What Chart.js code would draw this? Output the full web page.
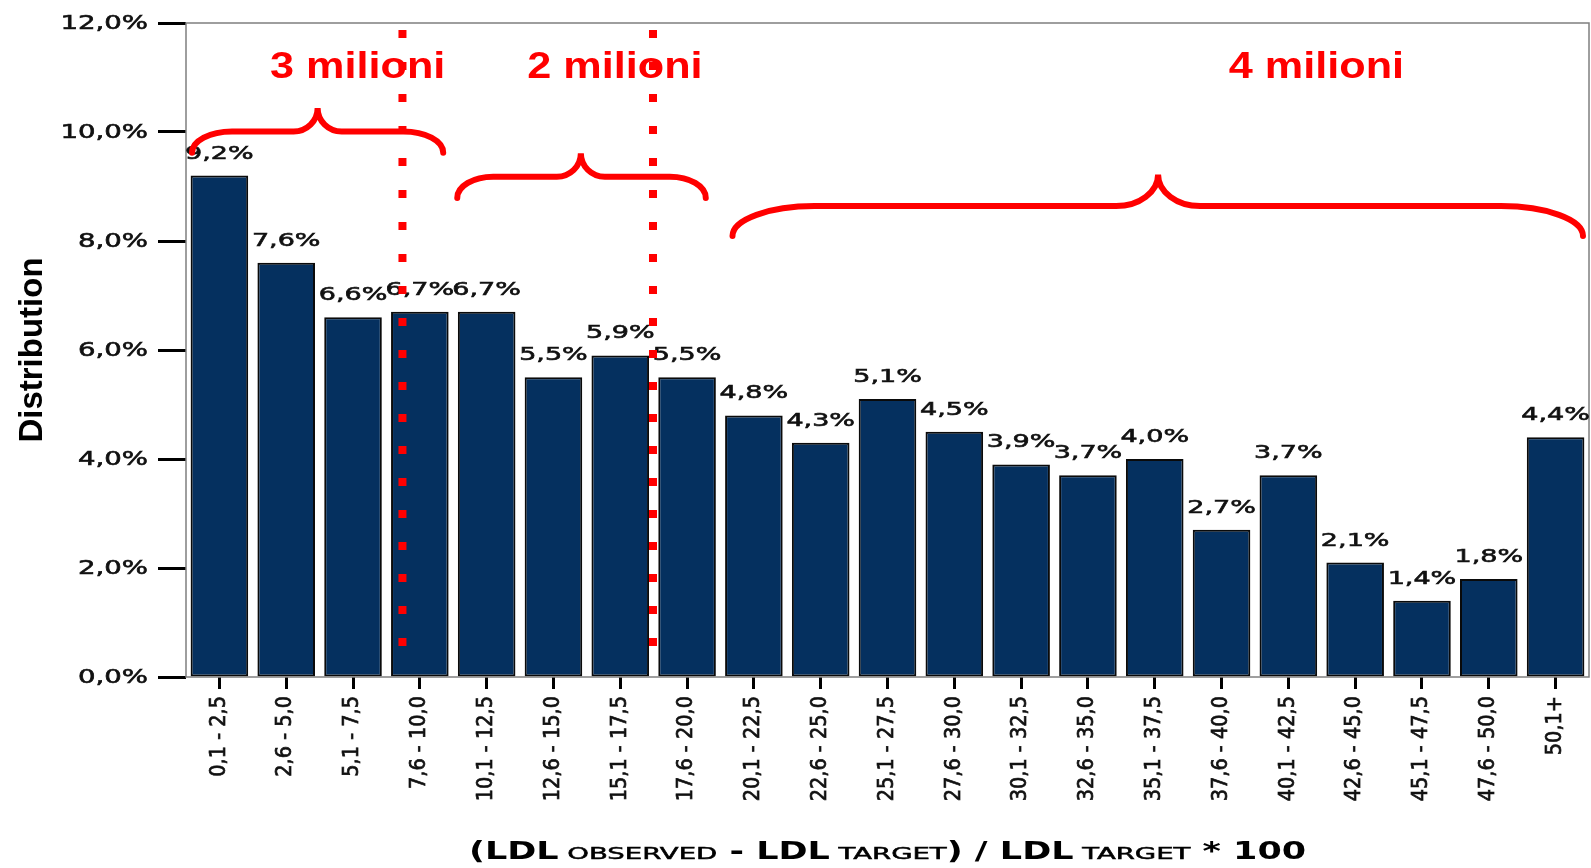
<!DOCTYPE html>
<html>
<head>
<meta charset="utf-8">
<title>Distribution LDL</title>
<script src="https://cdn.jsdelivr.net/npm/chart.js@4.4.0/dist/chart.umd.min.js"></script>
<style>
  html, body { margin: 0; padding: 0; background: #fff; }
  #ldl-chart-content { position: relative; width: 1591px; height: 868px; }
</style>
</head>
<body>
<div id="ldl-chart-content"><canvas id="ldl-bar-chart"></canvas></div>
<script>
const categories = [
  '0,1 - 2,5', '2,6 - 5,0', '5,1 - 7,5', '7,6 - 10,0', '10,1 - 12,5', '12,6 - 15,0',
  '15,1 - 17,5', '17,6 - 20,0', '20,1 - 22,5', '22,6 - 25,0', '25,1 - 27,5', '27,6 - 30,0',
  '30,1 - 32,5', '32,6 - 35,0', '35,1 - 37,5', '37,6 - 40,0', '40,1 - 42,5', '42,6 - 45,0',
  '45,1 - 47,5', '47,6 - 50,0', '50,1+'
];
const distribution = [
  9.2, 7.6, 6.6, 6.7, 6.7, 5.5, 5.9, 5.5, 4.8, 4.3, 5.1,
  4.5, 3.9, 3.7, 4.0, 2.7, 3.7, 2.1, 1.4, 1.8, 4.4
];
const yTickLabels = ['0,0%', '2,0%', '4,0%', '6,0%', '8,0%', '10,0%', '12,0%'];

// group annotations (x in category index units, y in %)
const groupNames = ['3 milioni', '2 milioni', '4 milioni'];
const groupNameX = [2.07, 5.92, 16.42];
const groupNameY = 11.0;
const dividerX = [2.74, 6.49];
const dividerRange = [11.87, 0.5];
const braceFrom = [-0.41, 3.56, 7.68];
const braceTip = [1.47, 5.41, 14.05];
const braceTo = [3.35, 7.28, 20.41];
const braceLine = [10.01, 9.18, 8.64];
const bracePeak = [10.44, 9.61, 9.22];
const braceEnd = [9.62, 8.79, 8.09];

const BAR_COLOR = '#05305f';
const RED = '#ff0000';
const TEXT_COLOR = '#111111';

function pct(v) {
  return v.toFixed(1).replace('.', ',') + '%';
}

// text widened horizontally around its anchor, with a light outline to thicken it
function wideText(ctx, text, x, y, sx, outline) {
  ctx.save();
  ctx.translate(x, y);
  ctx.scale(sx, 1);
  ctx.fillText(text, 0, 0);
  if (outline) {
    ctx.lineWidth = outline;
    ctx.strokeText(text, 0, 0);
  }
  ctx.restore();
}

function drawBrace(ctx, x0, xm, x1, yLine, yTip, yEnd, corner, tipW) {
  ctx.beginPath();
  ctx.ellipse(x0 + corner, yEnd, corner, yEnd - yLine, 0, Math.PI, 1.5 * Math.PI);
  ctx.lineTo(xm - tipW, yLine);
  ctx.ellipse(xm - tipW, yTip, tipW, yLine - yTip, 0, 0.5 * Math.PI, 0, true);
  ctx.ellipse(xm + tipW, yTip, tipW, yLine - yTip, 0, Math.PI, 0.5 * Math.PI, true);
  ctx.lineTo(x1 - corner, yLine);
  ctx.ellipse(x1 - corner, yEnd, corner, yEnd - yLine, 0, 1.5 * Math.PI, 2 * Math.PI);
  ctx.stroke();
}

const decorations = {
  id: 'decorations',
  afterDraw(chart) {
    const ctx = chart.ctx;
    const area = chart.chartArea;
    const xs = chart.scales.x;
    const ys = chart.scales.y;

    // plot frame
    ctx.save();
    ctx.strokeStyle = '#7f7f7f';
    ctx.lineWidth = 1.5;
    ctx.strokeRect(area.left, area.top, area.right - area.left, area.bottom - area.top);

    // y tick labels
    ctx.fillStyle = TEXT_COLOR;
    ctx.strokeStyle = TEXT_COLOR;
    ctx.font = '19px "DejaVu Sans"';
    ctx.textAlign = 'right';
    ctx.textBaseline = 'middle';
    const yLabelX = ys.right - ys.options.grid.tickLength - 10;
    ys.ticks.forEach((tick, i) => {
      wideText(ctx, yTickLabels[i], yLabelX, ys.getPixelForValue(tick.value) + 1, 1.45, 0.6);
    });

    // rotated category labels
    ctx.font = '14px "DejaVu Sans"';
    ctx.textAlign = 'right';
    ctx.textBaseline = 'middle';
    ctx.lineWidth = 0.5;
    const xLabelY = xs.top + xs.options.grid.tickLength + 7;
    xs.ticks.forEach((tick, i) => {
      ctx.save();
      ctx.translate(xs.getPixelForTick(i), xLabelY);
      ctx.scale(1.45, 1.38);
      ctx.rotate(-Math.PI / 2);
      ctx.fillText(categories[i], 0, 0);
      ctx.strokeText(categories[i], 0, 0);
      ctx.restore();
    });

    // value labels above bars
    ctx.font = '18px "DejaVu Sans"';
    ctx.textAlign = 'center';
    ctx.textBaseline = 'alphabetic';
    chart.getDatasetMeta(0).data.forEach((bar, i) => {
      wideText(ctx, pct(distribution[i]), bar.x, bar.y - 17, 1.5, 0.6);
    });

    // x axis title with small caps parts
    const big = 'bold 25px "DejaVu Sans"';
    const small = '16px "DejaVu Sans"';
    const parts = [
      ['(LDL', big, 1.4], [' OBSERVED', small, 1.72], [' - ', big, 1.4], ['LDL', big, 1.4],
      [' TARGET', small, 1.72], [') / ', big, 1.4], ['LDL', big, 1.4], [' TARGET', small, 1.72],
      [' * 100', big, 1.4]
    ];
    ctx.fillStyle = '#000';
    ctx.strokeStyle = '#000';
    ctx.textAlign = 'left';
    let total = 0;
    parts.forEach(p => { ctx.font = p[1]; total += ctx.measureText(p[0]).width * p[2]; });
    let tx = (area.left + area.right) / 2 - total / 2;
    parts.forEach(p => {
      ctx.font = p[1];
      wideText(ctx, p[0], tx, 859, p[2], p[1] === small ? 0.5 : 0);
      tx += ctx.measureText(p[0]).width * p[2];
    });

    // dotted dividers
    ctx.strokeStyle = RED;
    ctx.lineWidth = 8;
    ctx.setLineDash([8, 24]);
    dividerX.forEach(v => {
      const x = xs.getPixelForValue(v);
      ctx.beginPath();
      ctx.moveTo(x, ys.getPixelForValue(dividerRange[0]));
      ctx.lineTo(x, ys.getPixelForValue(dividerRange[1]));
      ctx.stroke();
    });
    ctx.setLineDash([]);

    // braces
    ctx.lineWidth = 6;
    ctx.lineCap = 'round';
    const corners = [40, 36, 82];
    const tips = [24, 24, 42];
    for (let i = 0; i < braceFrom.length; i++) {
      drawBrace(ctx,
        xs.getPixelForValue(braceFrom[i]), xs.getPixelForValue(braceTip[i]), xs.getPixelForValue(braceTo[i]),
        ys.getPixelForValue(braceLine[i]), ys.getPixelForValue(bracePeak[i]), ys.getPixelForValue(braceEnd[i]),
        corners[i], tips[i]);
    }

    // group names
    ctx.fillStyle = RED;
    ctx.font = 'bold 36px "Liberation Sans"';
    ctx.textAlign = 'center';
    ctx.textBaseline = 'alphabetic';
    groupNames.forEach((name, i) => {
      wideText(ctx, name, xs.getPixelForValue(groupNameX[i]), ys.getPixelForValue(groupNameY), 1.2);
    });
    ctx.restore();
  }
};

var config = {
  type: 'bar',
  data: {
    labels: categories,
    datasets: [
      {
        label: 'Distribution',
        data: distribution,
        backgroundColor: BAR_COLOR,
        borderColor: '#0a0a0a',
        borderWidth: 2,
        borderSkipped: false,
        barPercentage: 0.862,
        categoryPercentage: 1,
      },
    ],
  },
  options: {
    responsive: true,
    maintainAspectRatio: false,
    animation: false,
    devicePixelRatio: 1,
    layout: {
      padding: { top: 23, right: 2, left: 0, bottom: 0 },
    },
    plugins: {
      legend: { display: false },
      tooltip: { enabled: false },
    },
    scales: {
      x: {
        offset: true,
        grid: {
          offset: false,
          drawOnChartArea: false,
          drawTicks: true,
          tickLength: 12,
          tickColor: '#000',
          tickWidth: 3,
        },
        border: { display: false },
        ticks: { display: false },
        afterFit: function (scale) {
          scale.height = 191;
        },
      },
      y: {
        min: 0,
        max: 12,
        grid: {
          drawOnChartArea: false,
          drawTicks: true,
          tickLength: 28,
          tickColor: '#000',
          tickWidth: 3,
        },
        border: { display: false },
        ticks: { display: false, stepSize: 2 },
        title: {
          display: true,
          text: 'Distribution',
          color: '#000',
          padding: { top: 13, bottom: 0 },
          font: { family: '"Liberation Sans"', size: 33, weight: 'bold' },
        },
        afterFit: function (scale) {
          scale.width = 186;
        },
      },
    },
  },
  plugins: [decorations],
};

var ctx = document.getElementById('ldl-bar-chart').getContext('2d');
window.ldlBarChart = new Chart(ctx, config);
</script>
</body>
</html>
